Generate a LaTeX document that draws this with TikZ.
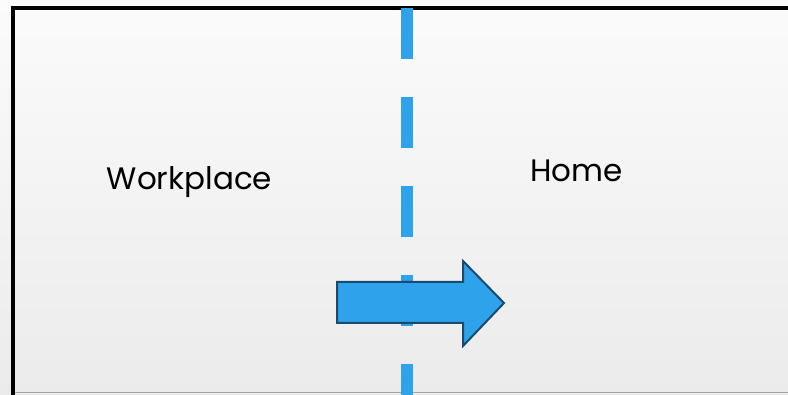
\documentclass[tikz,border=0pt]{standalone}
\usepackage{fontspec}
\setmainfont{Poppins}
\definecolor{dashblue}{HTML}{2EA3EC}
\definecolor{arrowfill}{HTML}{2EA2EB}
\definecolor{arrowline}{HTML}{1A4A6C}
\definecolor{bgtop}{HTML}{FBFBFB}
\definecolor{bgbot}{HTML}{EBEBEB}
\tikzset{
  label text/.style={font=\fontsize{31}{37}\selectfont, text=black, inner sep=0pt, anchor=base},
  divider/.style={line width=12pt, draw=dashblue, dash pattern=on 51pt off 38pt},
  bigarrow/.style={fill=arrowfill, draw=arrowline, line width=2pt, line join=miter},
}
\begin{document}
\begin{tikzpicture}[x=1pt,y=-1pt]
\useasboundingbox (0,0) rectangle (788,395);
\shade[top color=bgtop, bottom color=bgbot] (0,0) rectangle (788,395);
% frame
\draw[gray!70, line width=1pt] (13,393) -- (790,393);
\draw[black, line width=4pt] (13,397) -- (13,8) -- (792,8);
% divider
\coordinate (dtop) at (407,8);
\coordinate (dbot) at (407,400);
\draw[divider] (dtop) -- (dbot);
% arrow
\draw[bigarrow] (337,282) -- (463,282) -- (463,261) -- (504,303) -- (463,346) -- (463,323) -- (337,323) -- cycle;
% labels
\node[label text] (work) at (189.5,190) {Workplace};
\node[label text] (home) at (576.5,182) {Home};
\end{tikzpicture}
\end{document}
